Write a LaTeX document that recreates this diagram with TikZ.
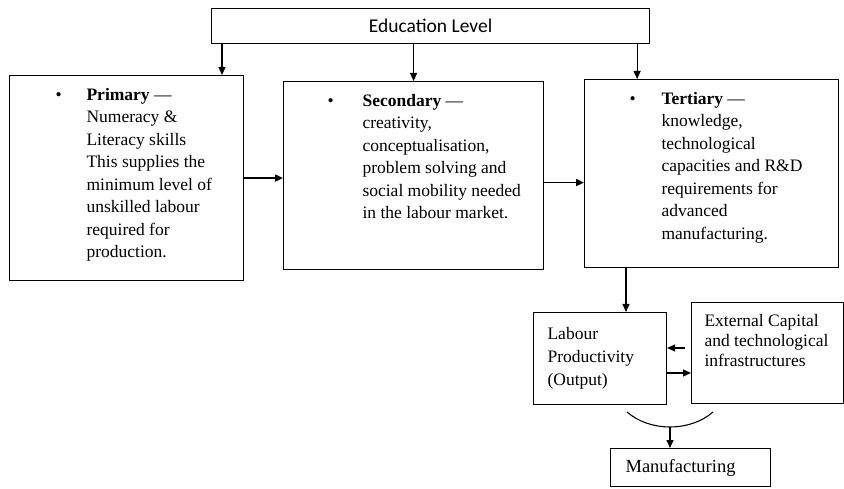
\documentclass[tikz,border=0pt]{standalone}
\usepackage{fontspec}
\setmainfont{Liberation Serif}
\newfontfamily\edufont{Carlito}
\usetikzlibrary{arrows.meta,positioning,calc}

% bullet entry: indent, gap to text, title, lines
\newcommand{\levelitem}[4]{%
  \hspace*{#1}\rule{0pt}{24.5pt}\makebox[#2][l]{\textbullet}%
  \parbox[t]{\dimexpr\linewidth-#1-#2\relax}{\textbf{#3} ---\\#4}}

\begin{document}
\begin{tikzpicture}[x=1pt, y=-1pt,
      level/.style={draw, line width=1.1pt, inner sep=0pt, anchor=north west,
        font=\fontsize{17.5}{22.5}\selectfont},
      lowbox/.style={draw, line width=1.1pt, anchor=north west, align=left,
        inner ysep=0pt, font=\fontsize{17.5}{23}\selectfont},
      arr/.style={-{Triangle[length=8pt,width=7pt]}, line width=1.1pt},
      thickarr/.style={arr, line width=1.8pt}]
      \useasboundingbox (0,0) rectangle (844,489);

      \node[draw, line width=1.1pt, anchor=north west, minimum width=438pt,
        minimum height=35pt, font=\edufont\fontsize{19.5}{22}\selectfont]
        (edu) at (211,8) {Education Level};

      \node[level] (prim) at (9,75) {\begin{minipage}[t][205pt][t]{234pt}
        \levelitem{46pt}{31pt}{Primary}{Numeracy \&\\Literacy skills\\This supplies the\\
        minimum level of\\unskilled labour\\required for\\production.}\end{minipage}};
      \node[level] (sec) at (283,81) {\begin{minipage}[t][188pt][t]{260pt}
        \levelitem{44pt}{35pt}{Secondary}{creativity,\\conceptualisation,\\problem solving and\\
        social mobility needed\\in the labour market.}\end{minipage}};
      \node[level] (ter) at (584,79) {\begin{minipage}[t][188pt][t]{254pt}
        \levelitem{45pt}{32pt}{Tertiary}{knowledge,\\technological\\capacities and R\&D\\
        requirements for\\advanced\\manufacturing.}\end{minipage}};

      \node[lowbox, minimum width=133pt, minimum height=92pt, text width=105pt,
        inner xsep=14pt] (lab) at (533,312) {Labour\\Productivity\\(Output)};
      \node[level, font=\fontsize{17.5}{20}\selectfont] (ext) at (691,302)
        {\begin{minipage}[t][101pt][t]{152pt}\leftskip=13pt
        \rule{0pt}{24pt}External Capital\\and technological\\infrastructures\end{minipage}};
      \node[lowbox, minimum width=160pt, minimum height=38pt, text width=130pt,
        inner xsep=15pt, font=\fontsize{18.5}{22}\selectfont]
        (manu) at (610,448) {Manufacturing};

      \draw[arr] ([xshift=11pt]edu.south west) -- ([xshift=11pt]edu.south west |- prim.north);
      \draw[arr] (edu.south -| sec.north) -- (sec.north);
      \draw[arr] ([xshift=-13pt]edu.south east) -- ([xshift=-13pt]edu.south east |- ter.north);
      \draw[thickarr] (prim.east) -- (prim.east -| sec.west);
      \draw[thickarr] ([yshift=-7pt]sec.east) -- ([yshift=-7pt]sec.east -| ter.west);
      \draw[arr] ([xshift=42pt]ter.south west) -- ([xshift=42pt]ter.south west |- lab.north);
      \draw[arr, shorten <=6pt] ([yshift=-46pt]ext.north west) -- ([yshift=-46pt]ext.north west -| lab.east);
      \draw[arr] ([yshift=-61pt]lab.north east) -- ([yshift=-61pt]lab.north east -| ext.west);

      % both outputs join before manufacturing
      \coordinate (arcl) at (627,412);
      \coordinate (arcr) at (713,412);
      \coordinate (arcm) at (670,427);
      \draw[line width=1.1pt] (arcl) .. controls (650,432) and (690,432) .. (arcr);
      \draw[arr] (arcm) -- (arcm |- manu.north);
\end{tikzpicture}
\end{document}
